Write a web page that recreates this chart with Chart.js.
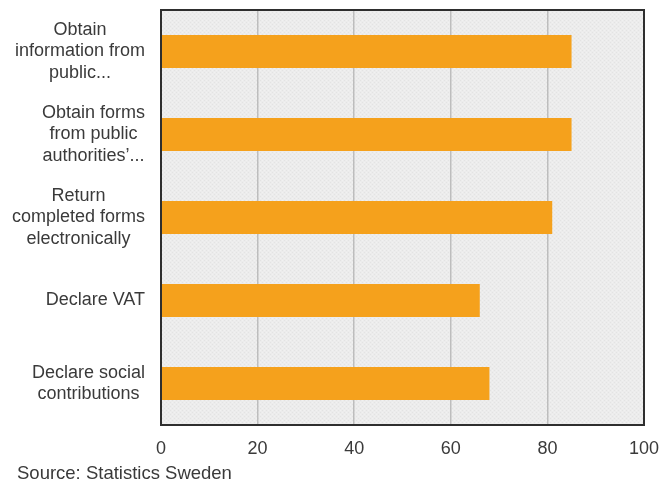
<!DOCTYPE html>
<html>
<head>
<meta charset="utf-8">
<title>Enterprises using e-government</title>
<script src="https://cdn.jsdelivr.net/npm/chart.js@4/dist/chart.umd.min.js"></script>
<style>
    html, body { margin: 0; padding: 0; background: #fff; }
    #wrap { position: relative; width: 660px; height: 484px; }
</style>
</head>
<body>
<div id="wrap"><canvas id="egovChart"></canvas></div>
<script>
// Share of enterprises (%) per e-government activity
const categories = [
    ['Obtain', 'information from', 'public...'],
    ['Obtain forms', 'from public', 'authorities\u2019...'],
    ['Return', 'completed forms', 'electronically'],
    ['Declare VAT'],
    ['Declare social', 'contributions']
];
const shares = [85, 85, 81, 66, 68];
const xTicks = [0, 20, 40, 60, 80, 100];
const sourceNote = 'Source: Statistics Sweden';

document.addEventListener('DOMContentLoaded', () => {
    const FONT = "'Liberation Sans', Arial, sans-serif";
    const TEXT = '#3a3a3a';

    // light grey speckled fill behind the bars
    const makePattern = () => {
        const c = document.createElement('canvas');
        c.width = 4; c.height = 4;
        const g = c.getContext('2d');
        g.fillStyle = '#ececec';
        g.fillRect(0, 0, 4, 4);
        g.fillStyle = '#e3e3e3';
        g.fillRect(0, 0, 1, 1);
        g.fillRect(2, 2, 1, 1);
        g.fillStyle = '#f1f1f1';
        g.fillRect(2, 0, 1, 1);
        g.fillRect(0, 2, 1, 1);
        return g.createPattern(c, 'repeat');
    };

    const plotFrame = {
        id: 'plotFrame',
        beforeDraw(chart) {
            const { ctx, chartArea: a } = chart;
            ctx.save();
            ctx.fillStyle = makePattern();
            ctx.fillRect(a.left, a.top, a.right - a.left, a.bottom - a.top);
            ctx.restore();
        },
        afterDraw(chart) {
            const { ctx, chartArea: a } = chart;
            ctx.save();
            ctx.strokeStyle = '#2e2e2e';
            ctx.lineWidth = 2;
            ctx.strokeRect(a.left, a.top, a.right - a.left, a.bottom - a.top);

            // category labels: lines centred on each other, block right-aligned to the axis
            const yScale = chart.scales.y;
            ctx.font = '18px ' + FONT;
            ctx.fillStyle = TEXT;
            ctx.textAlign = 'center';
            ctx.textBaseline = 'middle';
            const lineH = 21.5;
            categories.forEach((lines, i) => {
                const y = yScale.getPixelForTick(i);
                const widest = Math.max(...lines.map(l => ctx.measureText(l).width));
                const cx = a.left - 16 - widest / 2;
                lines.forEach((line, j) => {
                    ctx.fillText(line, cx, y + (j - (lines.length - 1) / 2) * lineH);
                });
            });

            // source note under the axis
            ctx.font = '18.5px ' + FONT;
            ctx.textAlign = 'left';
            ctx.textBaseline = 'alphabetic';
            ctx.fillText(sourceNote, 17, 479);
            ctx.restore();
        }
    };

    new Chart(document.getElementById('egovChart'), {
        type: 'bar',
        data: {
            labels: categories,
            datasets: [{
                data: shares,
                backgroundColor: '#f5a11c',
                borderWidth: 0,
                barPercentage: 0.4,
                categoryPercentage: 1
            }]
        },
        options: {
            indexAxis: 'y',
            responsive: true,
            maintainAspectRatio: false,
            animation: false,
            layout: { padding: { top: 10, right: 16, left: 0, bottom: 0 } },
            plugins: {
                legend: { display: false },
                tooltip: { enabled: false }
            },
            scales: {
                x: {
                    min: 0,
                    max: 100,
                    afterBuildTicks: (scale) => {
                        scale.ticks = xTicks.map(v => ({ value: v }));
                    },
                    afterFit: (scale) => {
                        scale.height = 59;
                        scale.paddingRight = 0;
                        scale.paddingLeft = 0;
                    },
                    grid: {
                        color: '#bdbdbd',
                        lineWidth: 1.5,
                        drawTicks: false
                    },
                    border: { display: false },
                    ticks: {
                        padding: 13,
                        color: TEXT,
                        font: { family: FONT, size: 18 }
                    }
                },
                y: {
                    afterFit: (scale) => {
                        scale.width = 161;
                    },
                    grid: { display: false },
                    border: { display: false },
                    ticks: { display: false }
                }
            }
        },
        plugins: [plotFrame]
    });
});
</script>
</body>
</html>
